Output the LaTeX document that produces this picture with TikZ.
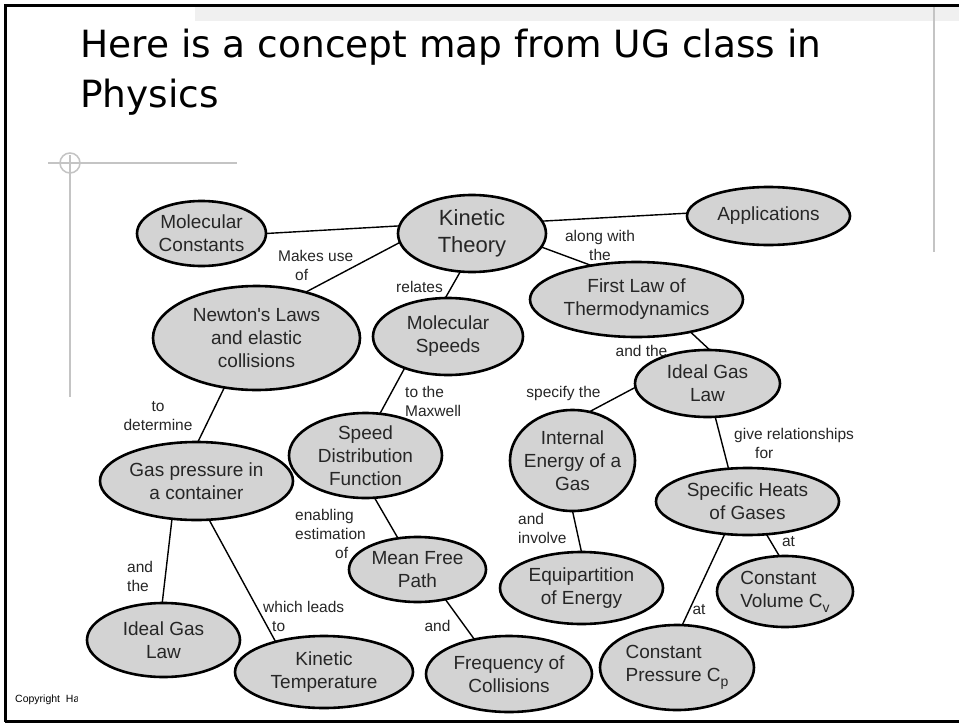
\documentclass[tikz,border=0pt]{standalone}
\usepackage{fontspec}
\setmainfont{Liberation Sans}
\newfontfamily\titlefont{DejaVu Sans}
\usetikzlibrary{shapes.geometric}
\definecolor{cfill}{RGB}{211,211,211}
\definecolor{decor}{RGB}{196,196,196}
\definecolor{hatch}{RGB}{240,240,240}
\begin{document}
\begin{tikzpicture}[x=1pt,y=-1pt,
  concept/.style={ellipse, draw=black, line width=2.6pt, fill=cfill, inner sep=0pt, outer sep=0pt},
  ctext/.style={font=\fontsize{19}{23}\selectfont, align=center, inner sep=0pt, text=black!85},
  ctextl/.style={font=\fontsize{19}{23}\selectfont, align=left, inner sep=0pt, text=black!85},
  ktext/.style={font=\fontsize{22}{27}\selectfont, align=center, inner sep=0pt, text=black!85},
  ltext/.style={font=\fontsize{15.5}{19}\selectfont, inner sep=0pt, text=black!85},
  link/.style={line width=1.4pt, draw=black},
  deco/.style={draw=decor, line width=2pt},
]
\useasboundingbox (0,0) rectangle (959,723);
\fill[white] (0,0) rectangle (959,723);

% slide frame and decorations
\fill[hatch] (195,7) rectangle (959,21);
\draw[black, line width=3pt] (5,722) -- (5,5) -- (959,5);
\draw[black, line width=3pt] (5,721) -- (959,721);
\draw[deco, line width=2.5pt] (934,7) -- (934,252);
\draw[deco] (48,163) -- (237,163);
\draw[deco] (70,155) -- (70,397);
\draw[deco, line width=1.5pt] (70,163) circle (10);

% title
\node[anchor=north west, inner sep=0pt, align=left,
      font=\titlefont\fontsize{37.5}{50}\selectfont] (title) at (80,28.5)
  {Here is a concept map from UG class in\\Physics};

% copyright
\begin{scope}
\clip (0,680) rectangle (77,715);
\node[anchor=base west, inner sep=0pt, font=\fontsize{10.5}{12}\selectfont] (copy) at (15,702) {Copyright\ \ Ha};
\end{scope}

% concepts
\node[concept, minimum width=129pt, minimum height=65pt, label={[ctext]center:Molecular\\Constants}] (mc) at (201.5,233.5) {};
\node[concept, minimum width=148pt, minimum height=77pt, label={[ktext]center:Kinetic\\Theory}] (kt) at (472,233.5) {};
\node[concept, minimum width=163pt, minimum height=58pt, label={[ctext]center:Applications}] (app) at (768.5,216) {};
\node[concept, minimum width=207pt, minimum height=104pt, label={[ctext]center:Newton\textquotesingle s Laws\\and elastic\\collisions}] (newton) at (256.5,338) {};
\node[concept, minimum width=150pt, minimum height=77pt, label={[ctext]center:Molecular\\Speeds}] (ms) at (448,336.5) {};
\node[concept, minimum width=213pt, minimum height=75pt, label={[ctext]center:First Law of\\Thermodynamics}] (fl) at (636.5,299.5) {};
\node[concept, minimum width=145pt, minimum height=67pt, label={[ctext]center:Ideal Gas\\Law}] (igr) at (707.5,383.5) {};
\node[concept, minimum width=125pt, minimum height=101pt, label={[ctext]center:Internal\\Energy of a\\Gas}] (ie) at (572.5,460.5) {};
\node[concept, minimum width=183pt, minimum height=67pt, label={[ctext]center:Specific Heats\\of Gases}] (sh) at (747.5,501.5) {};
\node[concept, minimum width=163pt, minimum height=72pt, label={[ctext]center:Equipartition\\of Energy}] (eq) at (581.5,588) {};
\node[concept, minimum width=136pt, minimum height=71pt, label={[ctextl]center:Constant\\Volume C\raisebox{-5pt}{\fontsize{14}{14}\selectfont v}}] (cv) at (785,591.5) {};
\node[concept, minimum width=154pt, minimum height=85pt, label={[ctextl]center:Constant\\Pressure C\raisebox{-5pt}{\fontsize{14}{14}\selectfont p}}] (cp) at (677,667.5) {};
\node[concept, minimum width=166pt, minimum height=76pt, label={[ctext]center:Frequency of\\Collisions}] (freq) at (509,674) {};
\node[concept, minimum width=137pt, minimum height=65pt, label={[ctext]center:Mean Free\\Path}] (mfp) at (417.5,569.5) {};
\node[concept, minimum width=153pt, minimum height=85pt, label={[ctext]center:Speed\\Distribution\\Function}] (sd) at (365.5,455.5) {};
\node[concept, minimum width=193pt, minimum height=78pt, label={[ctext]center:Gas pressure in\\a container}] (gp) at (196.5,481) {};
\node[concept, minimum width=153pt, minimum height=74pt, label={[ctext]center:Ideal Gas\\Law}] (igl) at (163.5,640) {};
\node[concept, minimum width=178pt, minimum height=72pt, label={[ctext]center:Kinetic\\Temperature}] (ktemp) at (324,672) {};

% connectors
\draw[link] (mc.0) -- (kt.174);
\draw[link] (kt.10) -- (app.178);
\draw[link] (kt.187) -- (newton.43);
\draw[link] (kt.253) -- (ms.94);
\draw[link] (kt.349) -- (fl.143);
\draw[link] (fl.329) -- (igr.86);
\draw[link] (igr.183) -- (ie.71);
\draw[link] (igr.283) -- (sh.120);
\draw[link] (ie.270) -- (eq.90);
\draw[link] (sh.300) -- (cv.99);
\draw[link] (sh.235) -- (cp.83);
\draw[link] (ms.216) -- (sd.71);
\draw[link] (sd.282) -- (mfp.122);
\draw[link] (mfp.313) -- (freq.135);
\draw[link] (newton.237) -- (gp.88);
\draw[link] (gp.237) -- (igl.92);
\draw[link] (gp.288) -- (ktemp.148);

% link labels
\node[ltext, align=left, anchor=west] (l1) at (278,265) {Makes use\\\hspace*{17pt}of};
\node[ltext] (l2) at (419.5,287) {relates};
\node[ltext, align=center] (l3) at (600,245) {along with\\the};
\node[ltext] (l4) at (641.5,351) {and the};
\node[ltext] (l5) at (563.5,393) {specify the};
\node[ltext, align=left, anchor=west] (l6) at (734,443) {give relationships\\\hspace*{21pt}for};
\node[ltext, align=left, anchor=west] (l7) at (518,528) {and\\involve};
\node[ltext] (l8) at (788.5,542) {at};
\node[ltext] (l9) at (699,610) {at};
\node[ltext, align=left, anchor=west] (l10) at (405,401) {to the\\Maxwell};
\node[ltext, align=left, anchor=west] (l11) at (295,534) {enabling\\estimation\\\hspace*{40pt}of};
\node[ltext] (l12) at (437.5,626) {and};
\node[ltext, align=center] (l13) at (158,416) {to\\determine};
\node[ltext, align=left, anchor=west] (l14) at (127,576) {and\\the};
\node[ltext, align=left, anchor=west] (l15) at (263,616) {which leads\\\hspace*{9pt}to};
\end{tikzpicture}
\end{document}
